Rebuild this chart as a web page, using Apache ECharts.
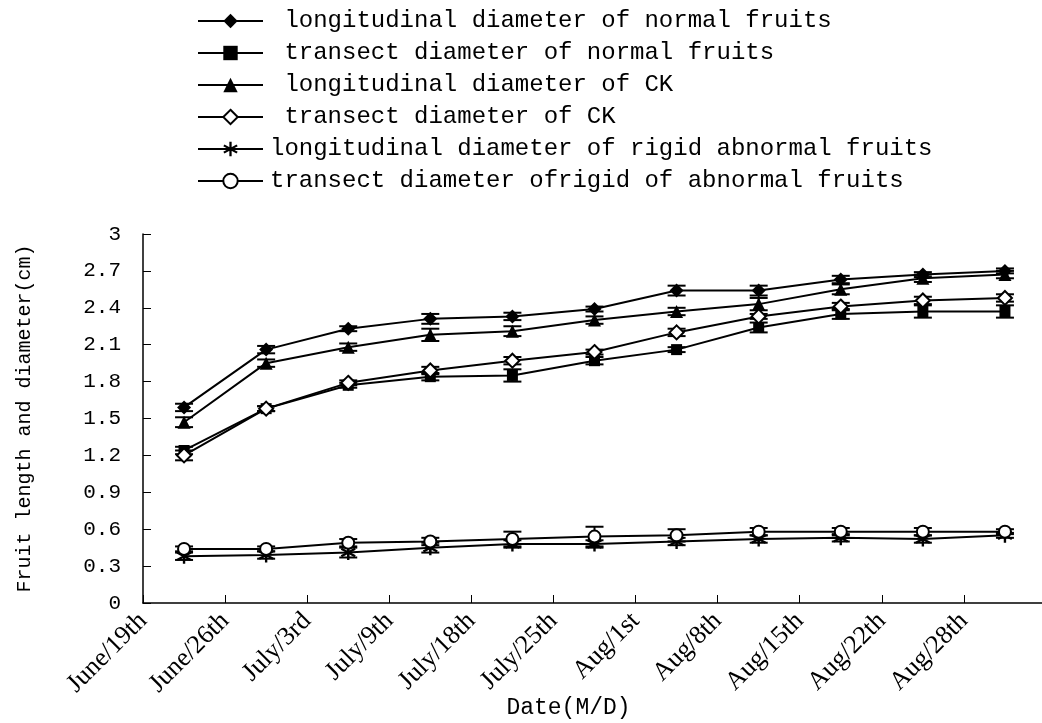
<!DOCTYPE html>
<html>
<head>
<meta charset="utf-8">
<title>Fruit length and diameter</title>
<script src="https://cdn.jsdelivr.net/npm/echarts@6/dist/echarts.min.js"></script>
<style>
	html, body {margin: 0; padding: 0; background: #fff;}
	#chart {width: 1042px; height: 723px;}
</style>
</head>
<body>
<div id="chart"></div>
<script>
let dates = ['June/19th', 'June/26th', 'July/3rd', 'July/9th', 'July/18th', 'July/25th', 'Aug/1st', 'Aug/8th', 'Aug/15th', 'Aug/22th', 'Aug/28th'];
let yTicks = [0, 0.3, 0.6, 0.9, 1.2, 1.5, 1.8, 2.1, 2.4, 2.7, 3];

let longNormal = [1.59, 2.06, 2.23, 2.31, 2.33, 2.39, 2.54, 2.54, 2.63, 2.67, 2.70];
let longNormalErr = [0.03, 0.03, 0.02, 0.04, 0.03, 0.02, 0.04, 0.04, 0.03, 0.02, 0.02];
let transNormal = [1.24, 1.58, 1.77, 1.84, 1.85, 1.97, 2.06, 2.24, 2.35, 2.37, 2.37];
let transNormalErr = [0.03, 0.02, 0.02, 0.03, 0.05, 0.03, 0.02, 0.04, 0.04, 0.05, 0.05];
let longCK = [1.47, 1.95, 2.08, 2.18, 2.21, 2.30, 2.37, 2.43, 2.55, 2.64, 2.67];
let longCKErr = [0.04, 0.03, 0.03, 0.05, 0.04, 0.03, 0.03, 0.05, 0.04, 0.03, 0.03];
let transCK = [1.20, 1.58, 1.79, 1.89, 1.97, 2.04, 2.20, 2.33, 2.41, 2.46, 2.48];
let transCKErr = [0.04, 0.02, 0.02, 0.03, 0.03, 0.02, 0.03, 0.02, 0.03, 0.03, 0.03];
let longRigid = [0.38, 0.39, 0.41, 0.45, 0.48, 0.48, 0.50, 0.52, 0.53, 0.52, 0.55];
let longRigidErr = [0.03, 0.03, 0.04, 0.04, 0.03, 0.03, 0.03, 0.03, 0.03, 0.03, 0.02];
let transRigid = [0.44, 0.44, 0.49, 0.50, 0.52, 0.54, 0.55, 0.58, 0.58, 0.58, 0.58];
let transRigidErr = [0.02, 0.02, 0.03, 0.03, 0.06, 0.08, 0.05, 0.03, 0.03, 0.03, 0.02];

// six-armed asterisk built from three bars
let asterisk = 'path://M8.5,0 L11.5,0 L11.5,20 L8.5,20 Z M2.05,3.7 L19.45,13.7 L17.95,16.3 L0.55,6.3 Z M0.55,13.7 L17.95,3.7 L19.45,6.3 L2.05,16.3 Z';

let seriesDefs = [
	{name: ' longitudinal diameter of normal fruits', values: longNormal, errors: longNormalErr, symbol: 'diamond', size: 14, fill: '#000'},
	{name: ' transect diameter of normal fruits', values: transNormal, errors: transNormalErr, symbol: 'rect', size: 11, fill: '#000'},
	{name: ' longitudinal diameter of CK', values: longCK, errors: longCKErr, symbol: 'triangle', size: 13, fill: '#000'},
	{name: ' transect diameter of CK', values: transCK, errors: transCKErr, symbol: 'diamond', size: 14, fill: '#fff'},
	{name: 'longitudinal diameter of rigid abnormal fruits', values: longRigid, errors: longRigidErr, symbol: asterisk, size: 15, fill: '#000'},
	{name: 'transect diameter ofrigid of abnormal fruits', values: transRigid, errors: transRigidErr, symbol: 'circle', size: 12, fill: '#fff'},
];

let mono = '"Liberation Mono", "DejaVu Sans Mono", monospace';
let serif = '"Liberation Serif", "DejaVu Serif", serif';

let errorBars = (def) => ({
	type: 'custom',
	z: 1,
	silent: true,
	data: def.values.map((v, i) => [i + 0.5, v, def.errors[i]]),
	renderItem: (params, api) => {
		let x = api.value(0);
		let v = api.value(1);
		let e = api.value(2);
		let top = api.coord([x, v + e]);
		let bottom = api.coord([x, v - e]);
		let half = 9;
		let style = {stroke: '#000', lineWidth: 2};
		return {
			type: 'group',
			children: [
				{type: 'line', shape: {x1: top[0], y1: top[1], x2: bottom[0], y2: bottom[1]}, style},
				{type: 'line', shape: {x1: top[0] - half, y1: top[1], x2: top[0] + half, y2: top[1]}, style},
				{type: 'line', shape: {x1: bottom[0] - half, y1: bottom[1], x2: bottom[0] + half, y2: bottom[1]}, style},
			],
		};
	},
});

let lineSeries = seriesDefs.map((def) => ({
	name: def.name,
	type: 'line',
	z: 3,
	data: def.values.map((v, i) => [i + 0.5, v]),
	symbol: def.symbol,
	symbolSize: def.size,
	showAllSymbol: true,
	lineStyle: {color: '#000', width: 2},
	itemStyle: {color: def.fill, borderColor: '#000', borderWidth: def.fill === '#fff' ? 2 : 0},
	emphasis: {disabled: true},
}));

let chart = echarts.init(document.getElementById('chart'));
chart.setOption({
	animation: false,
	backgroundColor: '#fff',
	legend: {
		orient: 'vertical',
		left: 197,
		top: 9,
		padding: 0,
		itemWidth: 65,
		itemHeight: 18,
		itemGap: 8,
		data: seriesDefs.map((d) => d.name),
		textStyle: {fontFamily: mono, fontSize: 24, lineHeight: 24, color: '#000', padding: [0, 0, 0, 2]},
	},
	grid: {left: 143, right: -4, top: 234, bottom: 120, outerBoundsMode: 'none'},
	xAxis: {
		type: 'value',
		min: 0,
		max: 11,
		interval: 1,
		name: 'Date(M/D)',
		nameLocation: 'middle',
		nameGap: 93,
		nameMoveOverlap: false,
		nameTextStyle: {fontFamily: mono, fontSize: 23, color: '#000', padding: [0, 52, 0, 0]},
		axisLine: {lineStyle: {color: '#000', width: 1.5}},
		axisTick: {inside: true, length: 8, lineStyle: {color: '#000'}},
		splitLine: {show: false},
		axisLabel: {
			rotate: 45,
			margin: 14,
			fontFamily: serif,
			fontSize: 26,
			color: '#000',
			formatter: (v) => dates[Math.round(v)] || '',
		},
	},
	yAxis: {
		type: 'value',
		min: 0,
		max: 3,
		interval: 0.3,
		name: 'Fruit length and diameter(cm)',
		nameLocation: 'middle',
		nameGap: 108,
		nameMoveOverlap: false,
		nameTextStyle: {fontFamily: mono, fontSize: 20, color: '#000'},
		axisLine: {show: true, lineStyle: {color: '#000', width: 1.5}},
		axisTick: {show: true, inside: true, length: 8, lineStyle: {color: '#000'}},
		splitLine: {show: false},
		axisLabel: {
			margin: 22,
			fontFamily: mono,
			fontSize: 21,
			color: '#000',
			formatter: (v) => {
				let tick = yTicks.find((t) => Math.abs(t - v) < 1e-6);
				return String(tick === undefined ? v : tick);
			},
		},
	},
	series: [...seriesDefs.map(errorBars), ...lineSeries],
});
</script>
</body>
</html>
